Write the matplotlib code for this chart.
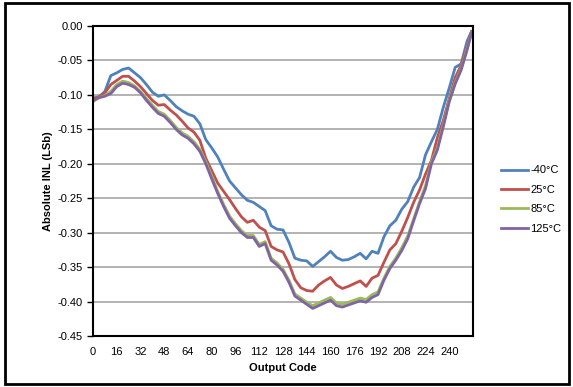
import matplotlib.pyplot as plt
from matplotlib.patches import Rectangle

plt.rcParams['font.family'] = ['Liberation Sans', 'DejaVu Sans']

codes = list(range(0, 256, 4)) + [255]

inl_m40 = [-0.105, -0.103, -0.095, -0.072, -0.068, -0.063, -0.061, -0.068, -0.075, -0.085,
           -0.096, -0.102, -0.100, -0.108, -0.117, -0.123, -0.128, -0.131, -0.142, -0.165,
           -0.177, -0.190, -0.208, -0.225, -0.235, -0.245, -0.253, -0.256, -0.262, -0.268,
           -0.290, -0.295, -0.296, -0.314, -0.337, -0.340, -0.341, -0.349, -0.342, -0.335,
           -0.327, -0.336, -0.340, -0.339, -0.335, -0.330, -0.338, -0.327, -0.330, -0.306,
           -0.290, -0.282, -0.266, -0.255, -0.234, -0.220, -0.187, -0.168, -0.150, -0.118,
           -0.090, -0.060, -0.055, -0.022, -0.008]

inl_25 = [-0.105, -0.103, -0.097, -0.085, -0.079, -0.073, -0.073, -0.080, -0.088, -0.098,
          -0.108, -0.115, -0.114, -0.122, -0.129, -0.138, -0.148, -0.154, -0.166, -0.192,
          -0.210, -0.228, -0.240, -0.252, -0.265, -0.277, -0.285, -0.282, -0.292, -0.297,
          -0.320, -0.325, -0.328, -0.345, -0.368, -0.380, -0.384, -0.385, -0.376, -0.370,
          -0.365, -0.376, -0.381, -0.378, -0.374, -0.370, -0.378, -0.366, -0.362, -0.343,
          -0.325, -0.316, -0.298, -0.278, -0.256, -0.238, -0.215, -0.195, -0.162, -0.137,
          -0.105, -0.075, -0.057, -0.030, -0.008]

inl_85 = [-0.110, -0.104, -0.101, -0.095, -0.085, -0.080, -0.082, -0.087, -0.095, -0.105,
          -0.115, -0.124, -0.128, -0.137, -0.147, -0.155, -0.160, -0.168, -0.179, -0.197,
          -0.218, -0.240, -0.259, -0.276, -0.287, -0.297, -0.304, -0.304, -0.317, -0.313,
          -0.337, -0.344, -0.353, -0.369, -0.389, -0.395, -0.401, -0.406, -0.402, -0.398,
          -0.394, -0.402, -0.404, -0.401, -0.398, -0.395, -0.397, -0.390, -0.386, -0.366,
          -0.349, -0.337, -0.322, -0.305, -0.280, -0.255, -0.232, -0.197, -0.177, -0.143,
          -0.108, -0.082, -0.062, -0.033, -0.010]

inl_125 = [-0.108, -0.104, -0.102, -0.098, -0.088, -0.083, -0.085, -0.089, -0.097, -0.108,
           -0.118, -0.127, -0.131, -0.140, -0.150, -0.158, -0.163, -0.171, -0.182, -0.200,
           -0.222, -0.243, -0.262, -0.279, -0.290, -0.300, -0.307, -0.307, -0.320, -0.316,
           -0.340, -0.347, -0.356, -0.372, -0.392, -0.398, -0.404, -0.410, -0.406, -0.402,
           -0.398, -0.406, -0.408, -0.405, -0.402, -0.399, -0.401, -0.394, -0.390, -0.369,
           -0.352, -0.340, -0.326, -0.309, -0.283, -0.258, -0.236, -0.200, -0.180, -0.146,
           -0.110, -0.084, -0.064, -0.035, -0.010]

labels = ['-40°C', '25°C', '85°C', '125°C']
colors = ['#4F81BD', '#C0504D', '#9BBB59', '#8064A2']

x_ticks = list(range(0, 256, 16))
y_ticks = [0.00, -0.05, -0.10, -0.15, -0.20, -0.25, -0.30, -0.35, -0.40, -0.45]

W, H = 573, 387
fig = plt.figure(figsize=(W / 100, H / 100), dpi=100)
ax = fig.add_axes([93 / W, 1 - 336 / H, (473 - 93) / W, (336 - 26) / H])

for ys, lab, c in zip([inl_m40, inl_25, inl_85, inl_125], labels, colors):
    ax.plot(codes, ys, color=c, lw=2.0, label=lab, solid_joinstyle='round')

ax.set_xlim(0, 256)
ax.set_ylim(-0.45, 0.0)
ax.set_xticks(x_ticks)
ax.set_yticks(y_ticks)
ax.set_yticklabels(['%.2f' % v for v in y_ticks])
ax.tick_params(axis='x', length=0, labelsize=8, pad=8)
ax.tick_params(axis='y', length=4, width=1, labelsize=8, direction='out')
ax.yaxis.grid(True, color='#A6A6A6', lw=1.2)
ax.set_axisbelow(True)
for s in ax.spines.values():
    s.set_linewidth(1.5)
    s.set_color('black')

ax.set_xlabel('Output Code', fontsize=8, fontweight='bold', labelpad=4)
ax.set_ylabel('Absolute INL (LSb)', fontsize=8, fontweight='bold', labelpad=3)

fig.legend(loc='upper left', bbox_to_anchor=(497 / W, 1 - 161 / H), frameon=False,
           fontsize=8, handlelength=2.4, handletextpad=0.2, labelspacing=0.85,
           borderaxespad=0)

# outer frame around the whole chart
fig.patches.append(Rectangle((5 / W, 3 / H), (569 - 5) / W, (384 - 3) / H,
                             transform=fig.transFigure, fill=False, lw=2, ec='black'))

fig.savefig('out.png', dpi=100)
